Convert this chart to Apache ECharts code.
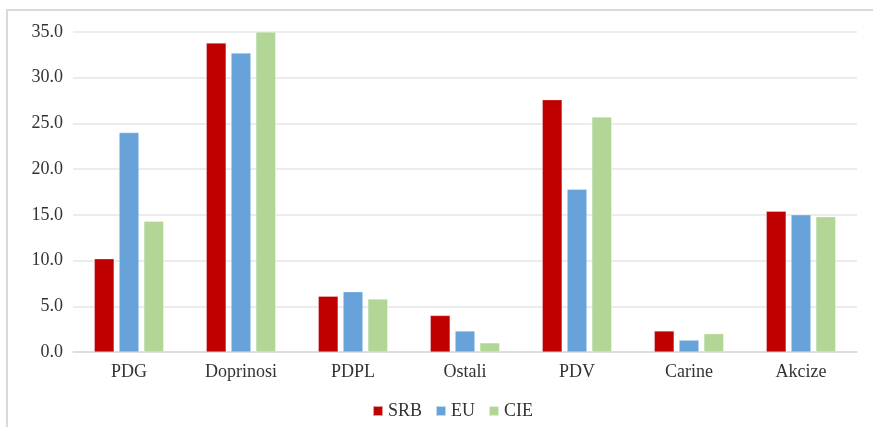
<!DOCTYPE html>
<html><head><meta charset="utf-8">
<script src="https://cdn.jsdelivr.net/npm/echarts@6/dist/echarts.min.js"></script>
<style>html,body{margin:0;padding:0;background:#fff}#c{width:873px;height:427px}</style>
</head><body><div id="c"></div>
<script>
const categories = ['PDG','Doprinosi','PDPL','Ostali','PDV','Carine','Akcize'];
const srb = [10.2, 33.8, 6.1, 4.0, 27.6, 2.3, 15.4];
const eu  = [24.0, 32.7, 6.6, 2.3, 17.8, 1.3, 15.0];
const cie = [14.3, 35.0, 5.8, 1.0, 25.7, 2.0, 14.8];
const seriesNames = ['SRB','EU','CIE'];
const colors = ['#C00000','#67A3D9','#B2D695'];
const font = 'Liberation Serif';
const chart = echarts.init(document.getElementById('c'));
const mk = (name, data, color) => ({
  name, type: 'bar', data, barGap: '25%', barCategoryGap: '38%',
  itemStyle: { color, borderColor: 'rgba(255,255,255,0.6)', borderWidth: 0.5 }
});
chart.setOption({
  animation: false,
  graphic: [{ type: 'rect', shape: { x: 7, y: 10, width: 880, height: 430 },
    style: { fill: 'none', stroke: '#d9d9d9', lineWidth: 2 }, silent: true }],
  grid: { left: 73, right: 16, top: 32, bottom: 75 },
  legend: {
    data: seriesNames, left: 367, top: 397, itemWidth: 10, itemHeight: 10, itemGap: 13,
    icon: 'rect', textStyle: { fontFamily: font, fontSize: 18, color: '#333' }
  },
  xAxis: {
    type: 'category', data: categories,
    axisLine: { lineStyle: { color: '#d9d9d9', width: 1.5 } },
    axisTick: { show: false },
    axisLabel: { fontFamily: font, fontSize: 18, color: '#333', margin: 11 }
  },
  yAxis: {
    type: 'value', min: 0, max: 35, interval: 5,
    axisLine: { show: false }, axisTick: { show: false },
    splitLine: { lineStyle: { color: '#e6e6e6', width: 1.5 } },
    axisLabel: { fontFamily: font, fontSize: 18, color: '#333', margin: 10,
      formatter: v => v.toFixed(1) }
  },
  series: [mk('SRB', srb, colors[0]), mk('EU', eu, colors[1]), mk('CIE', cie, colors[2])]
});
</script></body></html>
